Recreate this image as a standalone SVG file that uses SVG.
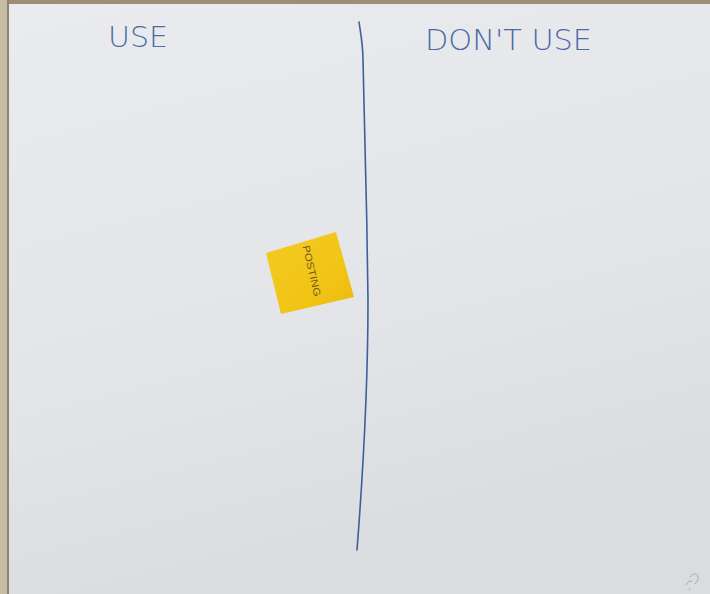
<svg xmlns="http://www.w3.org/2000/svg" width="710" height="594" viewBox="0 0 710 594">
  <defs>
    <linearGradient id="board" x1="0" y1="0" x2="0.3" y2="1">
      <stop offset="0" stop-color="#eaebee"/>
      <stop offset="0.6" stop-color="#e4e5e9"/>
      <stop offset="1" stop-color="#dbdce0"/>
    </linearGradient>
    <linearGradient id="note" x1="0" y1="0" x2="1" y2="1">
      <stop offset="0" stop-color="#f4cb22"/>
      <stop offset="0.7" stop-color="#f1c314"/>
      <stop offset="1" stop-color="#e6b90f"/>
    </linearGradient>
    <style>
      .ink { fill: #4d6aa4; font-family: "DejaVu Sans", "Liberation Sans", Arial, sans-serif; font-size: 28px; font-weight: 200; }
      .pen { fill: none; stroke: #3f5f98; stroke-width: 1.6; stroke-linecap: round; }
    </style>
  </defs>
  <rect x="0" y="0" width="710" height="594" fill="#c2b8a2"/>
  <rect x="9" y="4" width="701" height="590" fill="url(#board)"/>
  <rect x="0" y="0" width="710" height="4" fill="#a08e74"/>
  <rect x="0" y="0" width="8" height="594" fill="#c7bda6"/>
  <rect x="7" y="0" width="2" height="594" fill="#8d8470"/>

  <text class="ink" x="108" y="47" textLength="60" lengthAdjust="spacingAndGlyphs">USE</text>
  <text class="ink" x="425" y="50" textLength="167" lengthAdjust="spacingAndGlyphs">DON'T USE</text>

  <path class="pen" d="M359 22 C361 35 363 45 363 60 C365 130 367 220 368 300 C368 380 364 460 357 550"/>

  <g id="sticky-note">
    <polygon points="266,253 336,232 354,297 281,314" fill="url(#note)"/>
    <text x="0" y="0" transform="translate(311,271) rotate(77)" text-anchor="middle" dominant-baseline="middle" font-family="Liberation Sans, Arial, sans-serif" font-size="10" fill="#6a5520" textLength="52" lengthAdjust="spacingAndGlyphs">POSTING</text>
  </g>

  <path d="M686 585 q3 -6 6 -3 M690 577 q5 -6 8 -1 q1 5 -3 8 M689 590 l1 -2" fill="none" stroke="#a4a9b5" stroke-width="1"/>
</svg>
